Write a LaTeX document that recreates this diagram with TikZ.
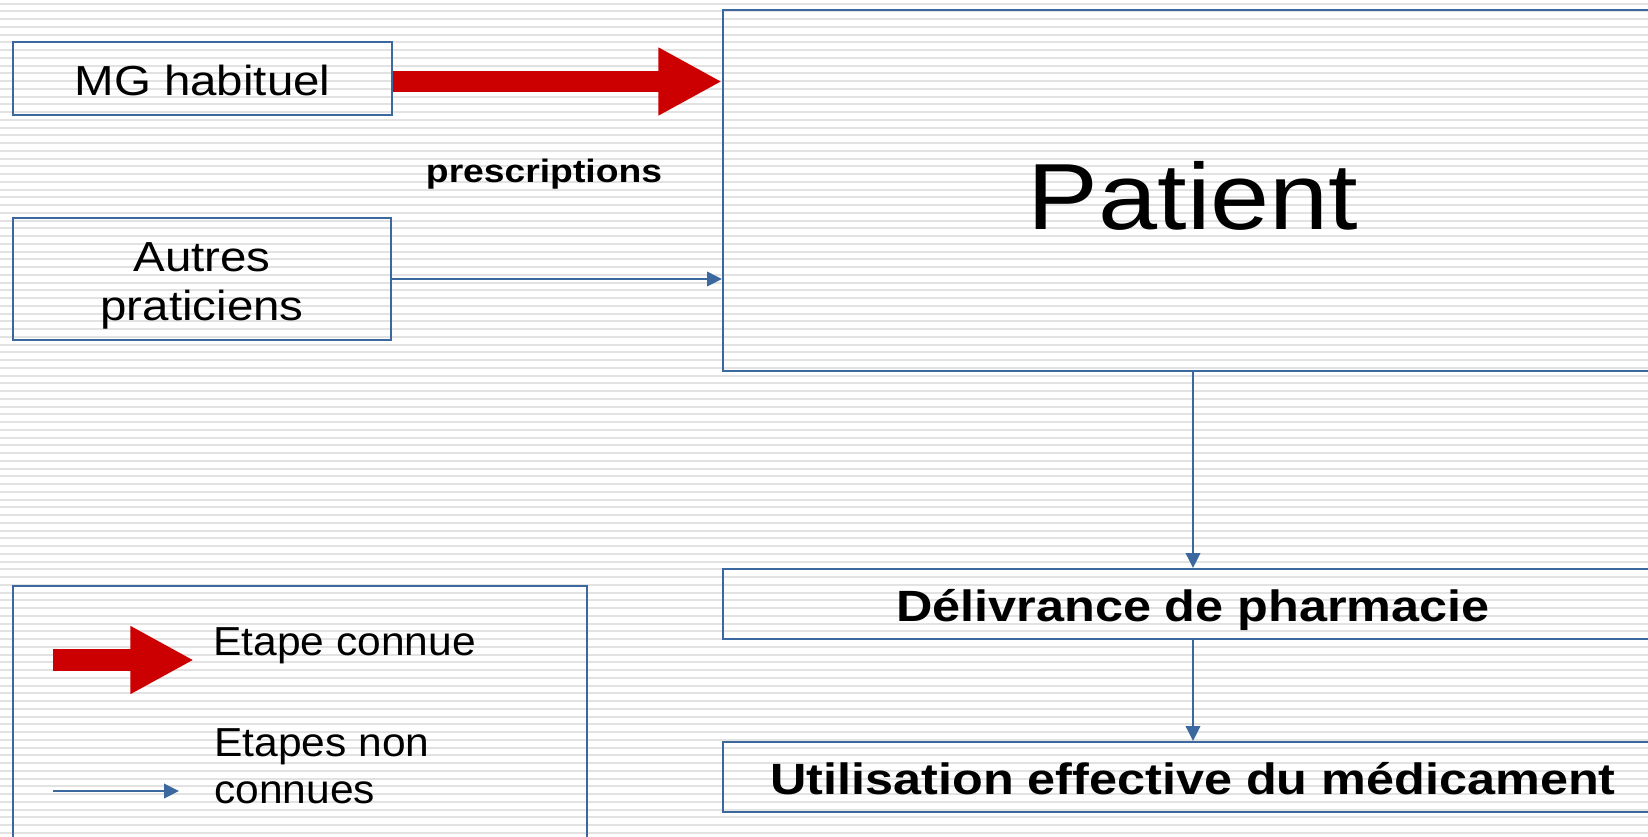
\documentclass[tikz,border=0pt]{standalone}
\usepackage{fontspec}
\setmainfont{Liberation Sans}
\newfontfamily\widefont{Liberation Sans}[FakeStretch=1.13]
\newfontfamily\boldwide{Liberation Sans}[FakeStretch=1.15]
\newfontfamily\legfont{Liberation Sans}[FakeStretch=1.05]
\usetikzlibrary{arrows.meta}
\definecolor{boxblue}{RGB}{60,104,160}
\definecolor{arrred}{RGB}{204,0,0}
\definecolor{stripegray}{RGB}{226,226,226}
\begin{document}
\begin{tikzpicture}[x=0.5pt,y=-0.5pt,
  box/.style={draw=boxblue, line width=1pt, inner sep=0pt, rectangle},
  stripe/.style={draw=stripegray, line width=1pt},
  known/.style={draw=arrred, line width=10.65pt, -{Triangle[length=31.85pt,width=31.7pt]}},
  unknown/.style={draw=boxblue, line width=1pt, -{Triangle[length=7.5pt,width=7.25pt]}},
  txt/.style={inner sep=0pt, anchor=base},
  plain/.style={font=\widefont\fontsize{21pt}{24.5pt}\selectfont},
  boldlab/.style={font=\boldwide\bfseries\fontsize{21.9pt}{26pt}\selectfont},
  legtxt/.style={font=\legfont\fontsize{20.25pt}{23.5pt}\selectfont, inner sep=0pt},
]
\useasboundingbox (0,0) rectangle (1648,836);
\clip (0,0) rectangle (1648,836);
\fill[white] (0,0) rectangle (1648,836);
% striped background
\foreach \i in {0,...,107} \draw[stripe] (0,{3.5+7.75*\i}) -- (1648,{3.5+7.75*\i});

% boxes
\node[box, minimum width=189.5pt, minimum height=36.5pt] (mg) at (202.5,78.5) {};
\node[box, minimum width=189pt, minimum height=61pt] (au) at (202,279) {};
\node[box, minimum width=470pt, minimum height=180.5pt] (pat) at (1193,190.5) {};
\node[box, minimum width=470pt, minimum height=35pt] (del) at (1193,604) {};
\node[box, minimum width=470pt, minimum height=35pt] (util) at (1193,777) {};
\node[box, minimum width=287pt, minimum height=132pt] (leg) at (300,718) {};

% texts
\node[txt, plain] (tmg) at (202.5,95) {MG habituel};
\node[plain, inner sep=0pt, align=center] (tau) at (202,285.6) {Autres\\praticiens};
\node[txt, font=\widefont\fontsize{47pt}{56pt}\selectfont] (tpat) at (1193,229.5) {Patient};
\node[txt, font=\boldwide\bfseries\fontsize{16.2pt}{19pt}\selectfont] (tpres) at (544,182) {prescriptions};
\node[txt, boldlab] (tdel) at (1193,621.5) {Délivrance de pharmacie};
\node[txt, boldlab] (tutil) at (1193,794) {Utilisation effective du médicament};

% connectors
\draw[known] ([yshift=-1.5pt]mg.east) -- ([yshift=-1.5pt]mg.east -| pat.west);
\draw[unknown] (au.east) -- (au.east -| pat.west);
\draw[unknown] (pat.south) -- (del.north);
\draw[unknown] (del.south) -- (util.north);

% legend
\coordinate (lk1) at (53,660);
\coordinate (lk2) at (194,660);
\coordinate (lu1) at (53,791);
\coordinate (lu2) at (179,791);
\draw[known] (lk1) -- (lk2);
\draw[unknown] (lu1) -- (lu2);
\node[legtxt, anchor=base west] (tk) at (213,655) {Etape connue};
\node[legtxt, anchor=west, align=left] (tu) at (214,766) {Etapes non\\connues};
\end{tikzpicture}
\end{document}
